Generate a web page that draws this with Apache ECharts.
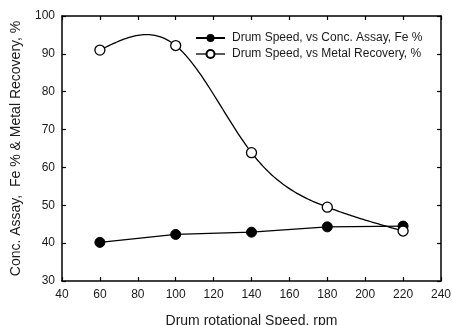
<!DOCTYPE html>
<html>
<head>
<meta charset="utf-8">
<script src="https://cdn.jsdelivr.net/npm/echarts@6/dist/echarts.min.js"></script>
<style>
	html, body { margin: 0; padding: 0; background: #fff; }
	#chart { width: 452px; height: 325px; }
</style>
</head>
<body>
<div id="chart"></div>
<script>
const drumSpeed = [60, 100, 140, 180, 220];
const concAssay = [40.2, 42.3, 42.9, 44.3, 44.5];
const metalRecovery = [91.0, 92.2, 63.9, 49.5, 43.2];
const seriesNames = ["Drum Speed, vs Conc. Assay, Fe %", "Drum Speed, vs Metal Recovery, %"];

const fontFamily = "Liberation Sans, Arial, sans-serif";
const textColour = "#1a1a1a";

function pairs(xs, ys) {
	return xs.map((x, i) => [x, ys[i]]);
}

// natural cubic spline (second derivatives), like the plotting program's curve fit
function splineM(xs, ys) {
	const n = xs.length;
	const a = new Array(n).fill(0), b = new Array(n).fill(1), c = new Array(n).fill(0), d = new Array(n).fill(0);
	for (let i = 1; i < n - 1; i++) {
		const h0 = xs[i] - xs[i - 1], h1 = xs[i + 1] - xs[i];
		a[i] = h0 / 6;
		b[i] = (h0 + h1) / 3;
		c[i] = h1 / 6;
		d[i] = (ys[i + 1] - ys[i]) / h1 - (ys[i] - ys[i - 1]) / h0;
	}
	// Thomas algorithm
	for (let i = 1; i < n; i++) {
		const w = a[i] / b[i - 1];
		b[i] -= w * c[i - 1];
		d[i] -= w * d[i - 1];
	}
	const m = new Array(n).fill(0);
	m[n - 1] = d[n - 1] / b[n - 1];
	for (let i = n - 2; i >= 0; i--) m[i] = (d[i] - c[i] * m[i + 1]) / b[i];
	return m;
}

function splineAt(xs, ys, m, x) {
	let i = 0;
	while (i < xs.length - 2 && x > xs[i + 1]) i++;
	const h = xs[i + 1] - xs[i];
	const t1 = xs[i + 1] - x, t0 = x - xs[i];
	return m[i] * t1 * t1 * t1 / (6 * h) + m[i + 1] * t0 * t0 * t0 / (6 * h)
		+ (ys[i] / h - m[i] * h / 6) * t1 + (ys[i + 1] / h - m[i + 1] * h / 6) * t0;
}

function renderSpline(params, api) {
	if (params.dataIndex !== 0) return null;
	const m = splineM(drumSpeed, metalRecovery);
	const x0 = drumSpeed[0], x1 = drumSpeed[drumSpeed.length - 1];
	const points = [];
	for (let k = 0; k <= 160; k++) {
		const x = x0 + (x1 - x0) * k / 160;
		points.push(api.coord([x, splineAt(drumSpeed, metalRecovery, m, x)]));
	}
	return {
		type: "polyline",
		shape: { points: points },
		style: { stroke: "#000", lineWidth: 1.3, fill: null },
	};
}

function boxAxis(extra) {
	return Object.assign({
		axisLine: { show: true, onZero: false, lineStyle: { color: "#000", width: 1.5 } },
		axisTick: { show: true, inside: true, length: 4, lineStyle: { color: "#000", width: 1.2 } },
		splitLine: { show: false },
	}, extra);
}

const chart = echarts.init(document.getElementById("chart"));
chart.setOption({
	animation: false,
	textStyle: { fontFamily: fontFamily },
	grid: { left: 62, right: 11, top: 16, bottom: 44, outerBoundsMode: "none", containLabel: false },
	legend: {
		orient: "vertical",
		left: 190,
		top: 27,
		itemWidth: 29,
		itemHeight: 10,
		itemGap: 4,
		textStyle: { fontSize: 12, color: textColour, fontFamily: fontFamily, padding: [0, 0, 0, 2] },
		data: [
			{ name: seriesNames[0] },
			{ name: seriesNames[1], lineStyle: { opacity: 1, width: 1.3, color: "#000" } },
		],
	},
	xAxis: [
		boxAxis({
			type: "value",
			min: 40,
			max: 240,
			interval: 20,
			name: "Drum rotational Speed, rpm",
			nameLocation: "middle",
			nameGap: 33,
			nameTextStyle: { fontSize: 14, color: textColour },
			axisLabel: { fontSize: 12, color: textColour, margin: 8 },
		}),
		boxAxis({
			type: "value",
			position: "top",
			min: 40,
			max: 240,
			interval: 20,
			axisLabel: { show: false },
		}),
	],
	yAxis: [
		boxAxis({
			type: "value",
			min: 30,
			max: 100,
			interval: 10,
			name: "Conc. Assay,  Fe % & Metal Recovery, %",
			nameLocation: "middle",
			nameGap: 39,
			nameTextStyle: { fontSize: 14, color: textColour },
			axisLabel: { fontSize: 12, color: textColour, margin: 7 },
		}),
		boxAxis({
			type: "value",
			position: "right",
			min: 30,
			max: 100,
			interval: 10,
			axisLabel: { show: false },
		}),
	],
	series: [
		{
			name: seriesNames[0],
			type: "line",
			data: pairs(drumSpeed, concAssay),
			symbol: "circle",
			symbolSize: 10,
			itemStyle: { color: "#000", borderColor: "#000" },
			lineStyle: { color: "#000", width: 1.3 },
			z: 3,
		},
		{
			type: "custom",
			data: pairs(drumSpeed, metalRecovery),
			renderItem: renderSpline,
			silent: true,
			z: 2,
		},
		{
			name: seriesNames[1],
			type: "line",
			data: pairs(drumSpeed, metalRecovery),
			symbol: "circle",
			symbolSize: 10,
			itemStyle: { color: "#fff", borderColor: "#000", borderWidth: 1.3 },
			lineStyle: { opacity: 0 },
			z: 4,
		},
	],
});
</script>
</body>
</html>
